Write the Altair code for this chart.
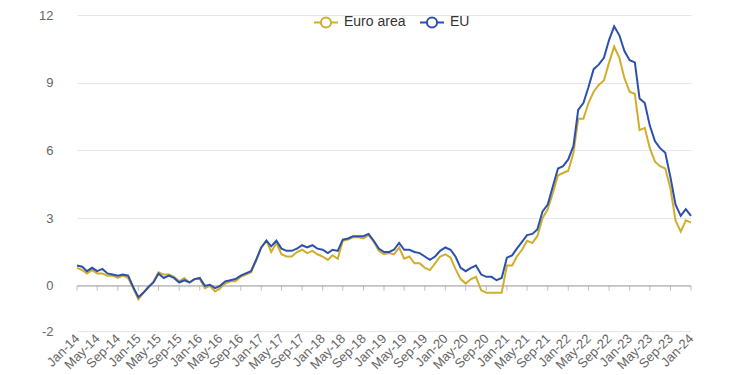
import altair as alt
import pandas as pd

# Monthly observations, Jan-2014 .. Jan-2024
months = pd.date_range("2014-01-01", "2024-01-01", freq="MS").strftime("%Y-%m-%d").tolist()

euro_area = [
    0.8, 0.7, 0.55, 0.7, 0.55, 0.55, 0.45, 0.45, 0.35, 0.45, 0.35, -0.1,   # 2014
    -0.6, -0.3, -0.1, 0.2, 0.6, 0.5, 0.5, 0.4, 0.2, 0.35, 0.15, 0.3,       # 2015
    0.3, -0.1, 0.0, -0.25, -0.1, 0.1, 0.2, 0.2, 0.4, 0.5, 0.6, 1.1,        # 2016
    1.7, 2.0, 1.5, 1.9, 1.4, 1.3, 1.3, 1.5, 1.6, 1.45, 1.55, 1.4,          # 2017
    1.3, 1.15, 1.35, 1.2, 2.0, 2.05, 2.15, 2.15, 2.1, 2.25, 1.95, 1.55,    # 2018
    1.4, 1.45, 1.4, 1.7, 1.2, 1.3, 1.0, 1.0, 0.8, 0.7, 1.0, 1.3,           # 2019
    1.4, 1.25, 0.75, 0.3, 0.1, 0.3, 0.4, -0.2, -0.3, -0.3, -0.3, -0.3,     # 2020
    0.9, 0.9, 1.3, 1.6, 2.0, 1.9, 2.2, 3.0, 3.4, 4.1, 4.9, 5.0,            # 2021
    5.1, 5.9, 7.4, 7.4, 8.1, 8.6, 8.9, 9.1, 9.9, 10.6, 10.1, 9.2,          # 2022
    8.6, 8.5, 6.9, 7.0, 6.1, 5.5, 5.3, 5.2, 4.3, 2.9, 2.4, 2.9,            # 2023
    2.8,                                                                  # 2024
]

eu = [
    0.9, 0.85, 0.65, 0.8, 0.65, 0.75, 0.55, 0.5, 0.45, 0.5, 0.45, -0.05,  # 2014
    -0.5, -0.3, -0.05, 0.15, 0.55, 0.35, 0.45, 0.35, 0.15, 0.25, 0.15, 0.3,  # 2015
    0.35, 0.0, 0.05, -0.1, 0.0, 0.2, 0.25, 0.3, 0.45, 0.55, 0.65, 1.15,   # 2016
    1.7, 2.0, 1.75, 2.0, 1.65, 1.55, 1.55, 1.65, 1.8, 1.7, 1.8, 1.65,     # 2017
    1.6, 1.45, 1.6, 1.55, 2.05, 2.1, 2.2, 2.2, 2.2, 2.3, 2.0, 1.65,       # 2018
    1.5, 1.5, 1.6, 1.9, 1.6, 1.6, 1.5, 1.45, 1.3, 1.15, 1.3, 1.55,        # 2019
    1.7, 1.6, 1.3, 0.8, 0.65, 0.8, 0.9, 0.5, 0.4, 0.4, 0.25, 0.35,        # 2020
    1.25, 1.35, 1.65, 1.95, 2.25, 2.3, 2.5, 3.3, 3.6, 4.4, 5.2, 5.3,      # 2021
    5.6, 6.2, 7.8, 8.1, 8.8, 9.6, 9.8, 10.1, 10.9, 11.5, 11.1, 10.4,      # 2022
    10.0, 9.9, 8.3, 8.1, 7.1, 6.4, 6.1, 5.9, 4.8, 3.6, 3.1, 3.4,          # 2023
    3.1,                                                                  # 2024
]

series_names = ["Euro area", "EU"]
series_colors = ["#D0AE2C", "#2B50AD"]
y_ticks = [-2, 0, 3, 6, 9, 12]
tick_dates = months[::4]  # Jan, May, Sep of each year

df = pd.DataFrame({
    "date": months * 2,
    "value": euro_area + eu,
    "series": ["Euro area"] * len(months) + ["EU"] * len(months),
    "order": [0] * len(months) + [1] * len(months),
})
zero_df = pd.DataFrame({"value": [0]})
tick_df = pd.DataFrame({"date": tick_dates, "value": [0] * len(tick_dates)})

x_domain = [alt.DateTime(year=2014, month=1, date=1, utc=True),
            alt.DateTime(year=2024, month=1, date=1, utc=True)]
x_vals = [alt.DateTime(year=int(d[:4]), month=int(d[5:7]), date=1, utc=True) for d in tick_dates]

x_scale = alt.Scale(type="utc", domain=x_domain)
y_scale = alt.Scale(domain=[-2, 12], nice=False, zero=False)

x_axis = alt.Axis(values=x_vals, format="%b-%y", labelAngle=-45,
                  labelAlign="right", labelBaseline="middle",
                  labelPadding=5, ticks=False, domain=False, grid=False,
                  labelFontSize=13, labelColor="#666666",
                  labelFont="Liberation Sans", labelOverlap=False)
y_axis = alt.Axis(values=y_ticks, ticks=False, domain=False,
                  grid=True, gridColor="#e6e6e6", gridWidth=1,
                  labelPadding=24, labelFontSize=13, labelColor="#666666",
                  labelFont="Liberation Sans",
                  labelExpr="replace(datum.label, '\u2212', '-')")

legend_symbol = ("M-1,0L-0.42,0M0.42,0L1,0M0.42,0"
                 "A0.42,0.42,0,1,1,-0.42,0A0.42,0.42,0,1,1,0.42,0")

lines = alt.Chart(df).mark_line(strokeWidth=2).encode(
    x=alt.X("date:T", scale=x_scale, title=None, axis=x_axis),
    y=alt.Y("value:Q", scale=y_scale, title=None, axis=y_axis),
    color=alt.Color("series:N",
                    scale=alt.Scale(domain=series_names, range=series_colors),
                    legend=alt.Legend(title=None, orient="none", direction="horizontal",
                                      legendX=236, legendY=-6,
                                      symbolType=legend_symbol, symbolSize=576,
                                      symbolStrokeWidth=2, symbolFillColor="white",
                                      labelFontSize=14, labelColor="#333333",
                                      labelFont="Liberation Sans", labelOffset=5,
                                      columnPadding=10, padding=0)),
    order=alt.Order("order:Q"),
)

zero_line = alt.Chart(zero_df).mark_rule(color="#a6a6a6", strokeWidth=1).encode(
    y=alt.Y("value:Q", scale=y_scale, title=None, axis=y_axis),
)

tick_marks = alt.Chart(tick_df).mark_tick(
    orient="vertical", size=5, thickness=1, color="#a6a6a6", yOffset=2.5
).encode(
    x=alt.X("date:T", scale=x_scale, title=None, axis=x_axis),
    y=alt.Y("value:Q", scale=y_scale, title=None, axis=y_axis),
)

chart = alt.layer(zero_line, tick_marks, lines).properties(
    width=614,
    height=316,
    autosize=alt.AutoSizeParams(type="none"),
    padding={"left": 69, "top": 7, "right": 45, "bottom": 46},
).configure_view(strokeWidth=0)

chart.save("out.html", embed_options={"renderer": "svg", "actions": False})
